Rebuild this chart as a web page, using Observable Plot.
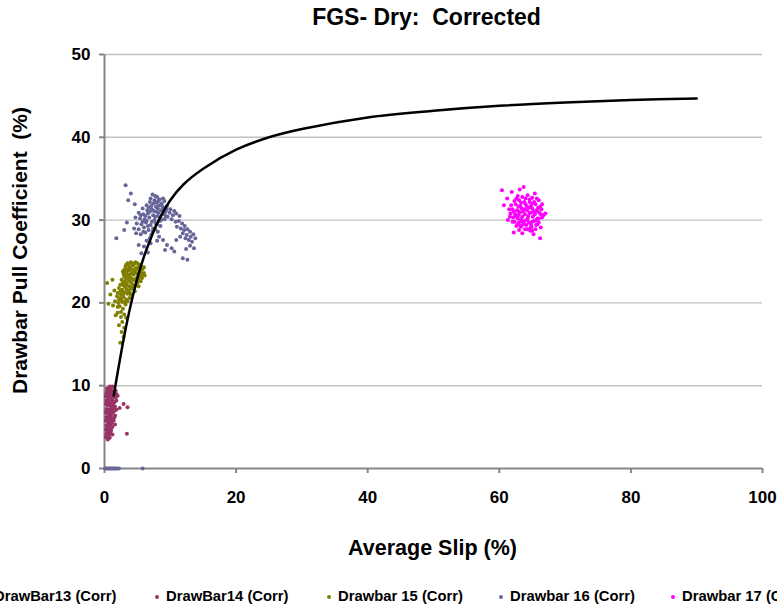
<!DOCTYPE html>
<html>
<head>
<meta charset="utf-8">
<script src="https://cdn.jsdelivr.net/npm/d3@7"></script>
<script src="https://cdn.jsdelivr.net/npm/@observablehq/plot@0.6"></script>
<style>
  html, body { margin: 0; padding: 0; background: #fff; }
  body { width: 777px; height: 607px; position: relative; overflow: hidden; font-family: "Liberation Sans", Arial, sans-serif; }
  #chart svg { display: block; white-space: pre; font-family: "Liberation Sans", Arial, sans-serif; }
  .legend { position: absolute; top: 588px; left: 0; height: 17px; font-size: 14.8px; font-weight: bold; line-height: 17px; white-space: nowrap; }
  .entry { position: absolute; top: 0; display: flex; align-items: center; }
  .entry .sw { width: 4px; height: 4px; border-radius: 50%; margin-right: 7px; margin-top: 1px; }
</style>
</head>
<body>
<div id="chart"></div>
<div class="legend" id="legend"></div>
<script>
// ---- data ----
const titleText = "FGS- Dry:  Corrected";
const xLabel = "Average Slip (%)";
const yLabel = "Drawbar Pull Coefficient  (%)";
const xTicks = [0, 20, 40, 60, 80, 100];
const yTicks = [0, 10, 20, 30, 40, 50];
const seriesNames = ["DrawBar13 (Corr)", "DrawBar14 (Corr)", "Drawbar 15 (Corr)", "Drawbar 16 (Corr)", "Drawbar 17 (Corr)"];
const seriesColors = ["#666699", "#993366", "#808000", "#666699", "#ff00ff"];

// fitted curve (slip %, drawbar pull %)
const curveSlip = [1.4, 2, 3, 4, 5, 6, 7, 8, 10, 12, 15, 20, 25, 30, 40, 50, 60, 70, 80, 90];
const curvePull = [8.8, 11.6, 16.0, 19.8, 23.0, 25.6, 27.7, 29.6, 32.4, 34.3, 36.2, 38.5, 40.0, 41.0, 42.4, 43.2, 43.8, 44.2, 44.5, 44.7];

const drawBar13 = [[0.1,0],[0.3,0],[0.5,0],[0.7,0],[0.9,0],[1.1,0],[1.3,0],[1.5,0],[1.7,0],[1.9,0],[2.2,0],[5.8,0]];

const drawBar14 = [
[0.8,9.9],[1.2,9.9],[0.4,9.4],[0.7,9.5],[1.0,9.6],[1.4,9.3],[1.7,9.4],[0.3,9.1],[0.6,9.0],[0.9,9.2],[1.2,9.0],[1.5,9.1],[1.8,9.0],
[0.2,8.7],[0.5,8.6],[0.8,8.8],[1.1,8.5],[1.4,8.7],[1.7,8.6],[2.0,8.8],[0.3,8.2],[0.6,8.3],[0.9,8.1],[1.2,8.3],[1.5,8.0],[1.8,8.2],[2.3,7.3],[2.9,7.8],[3.5,7.4],
[0.2,7.8],[0.5,7.6],[0.8,7.7],[1.0,7.4],[1.3,7.6],[1.6,7.5],[0.3,7.2],[0.6,7.1],[0.9,7.0],[1.2,7.2],[1.5,7.0],[1.8,7.1],
[0.2,6.8],[0.4,6.6],[0.7,6.7],[1.0,6.5],[1.3,6.8],[1.6,6.4],[0.3,6.2],[0.6,6.1],[0.9,6.3],[1.2,6.0],[1.5,6.2],
[0.2,5.8],[0.5,5.6],[0.8,5.7],[1.1,5.5],[1.4,5.8],[0.3,5.2],[0.6,5.1],[0.9,5.3],[1.2,5.0],[1.6,5.3],[1.2,4.1],[3.4,4.2],
[0.2,4.7],[0.5,4.5],[0.8,4.8],[0.3,4.2],[0.6,4.0],[0.9,4.3],[0.2,3.8],[0.5,3.5],[0.8,3.7],[1.0,4.6],
[0.4,9.7],[1.0,9.3],[1.3,8.9],[0.5,8.0],[0.8,7.9],[1.1,7.9],[1.4,7.3],[0.4,6.9],[0.8,6.4],[1.1,6.8],[0.4,5.9],[0.7,5.4],[1.0,5.9],[0.4,4.8],[0.7,4.2]
];

const drawBar15 = [
[3.5,24.8],[4.0,24.9],[4.5,24.7],[5.0,24.8],[5.4,24.6],[3.2,24.4],[3.8,24.3],[4.3,24.5],[4.8,24.2],[5.3,24.3],[5.8,24.1],
[2.8,23.8],[3.3,23.7],[3.7,23.9],[4.1,23.6],[4.6,23.8],[5.0,23.5],[5.5,23.7],[6.0,23.6],[3.0,23.2],[3.5,23.3],[3.9,23.1],[4.4,23.4],[4.9,23.0],[5.3,23.2],[5.7,23.0],[6.1,23.3],
[2.6,22.8],[3.1,22.6],[3.6,22.9],[4.0,22.5],[4.5,22.7],[5.0,22.4],[5.5,22.6],[2.4,22.2],[2.9,22.1],[3.4,22.3],[3.8,22.0],[4.3,22.2],[4.8,22.1],[5.2,22.0],[1.2,22.8],[0.4,22.4],
[2.2,21.8],[2.7,21.6],[3.2,21.9],[3.6,21.5],[4.1,21.7],[4.6,21.4],[2.0,21.2],[2.5,21.0],[3.0,21.3],[3.5,21.1],[4.0,21.0],[1.5,21.5],[0.9,21.0],
[1.9,20.8],[2.4,20.6],[2.9,20.7],[3.3,20.4],[3.8,20.6],[1.6,20.2],[2.1,20.0],[2.6,20.3],[3.1,20.1],[0.6,19.9],[1.3,19.7],[2.0,19.5],
[2.3,19.6],[2.8,19.3],[3.2,19.8],[2.5,18.9],[3.0,18.6],[2.0,18.8],[2.5,18.3],[3.3,18.2],[1.7,18.5],
[2.7,17.7],[2.2,17.3],[3.0,17.0],[2.6,16.5],[2.9,15.9],[2.4,15.2],
[3.3,24.6],[3.7,24.6],[4.2,24.8],[4.7,24.9],[5.2,24.5],[5.6,24.4],[3.0,24.0],[3.5,24.0],[4.0,24.1],[4.5,24.0],[5.0,24.1],[5.5,24.0],[6.0,24.3],
[2.9,23.5],[3.4,23.5],[3.8,23.4],[4.3,23.7],[4.8,23.6],[5.2,23.6],[5.7,23.4],[3.2,23.0],[3.7,22.7],[4.2,22.9],[4.7,22.9],[5.2,22.8],
[2.8,22.4],[3.3,22.1],[4.0,21.8],[4.5,22.0],[2.4,21.4],[2.9,21.1],[3.4,21.6],[3.8,21.3],[2.2,20.4],[2.7,20.1],[3.5,20.2]
];

const drawBar16 = [
[3.2,34.2],[4.0,33.2],[3.6,32.4],[4.6,31.9],[1.8,27.8],[3.4,29.7],[3.0,28.8],
[7.3,33.1],[8.0,32.8],[7.6,32.4],[8.4,32.5],[6.9,32.2],[7.9,32.1],[8.7,32.0],[9.1,32.3],[6.4,31.8],[7.1,31.7],[7.8,31.6],[8.3,31.8],[9.0,31.5],[9.5,31.7],
[5.8,31.4],[6.5,31.2],[7.2,31.3],[7.9,31.0],[8.6,31.2],[9.3,31.0],[5.2,30.9],[5.9,30.7],[6.6,30.8],[7.4,30.6],[8.1,30.5],[8.8,30.7],[9.6,30.4],
[4.7,30.3],[5.4,30.2],[6.1,30.1],[6.8,30.3],[7.6,30.0],[8.4,29.9],[9.1,30.1],[4.9,29.6],[5.6,29.5],[6.3,29.7],[7.0,29.4],[7.8,29.6],[8.5,29.3],
[4.5,29.0],[5.2,28.9],[6.0,29.1],[6.7,28.8],[7.4,29.0],[5.5,28.3],[6.2,28.5],[7.1,28.2],[8.1,28.6],[4.8,28.4],
[8.9,27.6],[9.5,27.0],[10.2,26.6],[10.6,26.2],[9.2,26.4],[6.6,26.1],[5.6,26.0],[6.0,26.8],[7.0,27.2],[8.0,27.5],[6.4,27.5],[5.2,27.0],
[9.9,30.9],[10.4,30.6],[10.9,30.8],[11.4,30.5],[10.2,30.1],[10.8,29.8],[11.3,29.9],[11.8,29.6],[12.2,29.3],[11.0,29.2],[11.6,29.0],[12.1,28.8],[12.6,28.9],[13.0,28.6],
[11.9,28.4],[12.5,28.2],[13.1,28.0],[13.5,28.3],[12.8,27.6],[13.3,27.4],[13.8,27.8],[12.3,27.8],[13.0,26.9],[13.6,26.6],[12.4,26.5],[11.9,25.4],[12.6,25.2],[10.9,27.6],[11.5,28.0],
[7.0,32.6],[7.7,32.9],[8.2,32.3],[8.9,32.6],[6.7,31.5],[7.4,32.0],[8.1,31.4],[8.8,31.6],[7.5,31.1],[8.2,30.9],[9.0,30.8],[6.2,30.5],[6.9,31.0],[7.7,30.4],[8.5,30.3],[9.3,30.5],
[5.5,30.6],[6.4,29.9],[7.2,29.8],[8.0,29.5],[5.8,29.8],[6.6,29.3],[7.3,28.6],[5.9,28.6],[8.3,28.0],[7.7,28.9],[6.9,27.8],[8.6,30.0],[9.4,31.3],[10.0,31.3],[10.6,31.1]
];

const drawBar17 = [
[60.4,33.6],[63.7,34.0],[63.1,33.7],[61.9,33.4],[65.4,33.2],[60.7,31.8],[62.2,28.5],[63.5,28.4],[65.2,28.3],[66.2,27.8],[67.0,30.8],[61.2,32.6],[66.5,31.9],[61.3,30.0],
[62.8,32.9],[63.5,32.8],[64.3,33.0],[65.0,32.7],
[62.3,32.3],[63.0,32.4],[63.8,32.2],[64.6,32.5],[65.3,32.2],[66.0,32.4],
[61.8,31.8],[62.5,31.9],[63.2,31.7],[64.0,31.9],[64.8,31.7],[65.5,31.9],[66.2,31.6],
[62.0,31.3],[62.7,31.2],[63.4,31.4],[64.2,31.2],[65.0,31.4],[65.7,31.2],[66.4,31.3],
[61.7,30.8],[62.4,30.7],[63.1,30.9],[63.9,30.7],[64.6,30.9],[65.4,30.7],[66.1,30.9],[66.7,30.6],
[62.1,30.3],[62.8,30.2],[63.5,30.4],[64.3,30.2],[65.1,30.4],[65.8,30.2],[66.5,30.3],
[62.3,29.8],[63.0,29.7],[63.8,29.9],[64.5,29.7],[65.3,29.9],[66.0,29.7],
[62.6,29.3],[63.3,29.2],[64.1,29.4],[64.9,29.2],[65.6,29.4],[66.3,29.1],
[63.0,28.8],[63.9,28.9],[64.7,28.7],[65.5,28.9],
[62.9,31.6],[63.6,31.0],[64.4,30.5],[65.2,31.1],[63.3,30.1],[64.8,29.5],[64.0,32.6],[65.7,30.0],[62.5,30.5],[63.7,29.5],[64.5,31.5],[65.9,31.5],
[62.6,32.6],[63.3,32.1],[64.2,31.6],[65.0,32.0],[65.7,32.6],[62.2,31.0],[63.0,31.0],[63.8,31.3],[64.8,30.9],[65.6,31.0],[66.3,30.7],[62.0,29.8],
[62.9,30.6],[63.5,29.8],[64.2,30.0],[65.0,29.8],[65.8,29.5],[62.8,29.5],[64.3,28.9],[65.0,28.7],[66.0,30.2],[64.6,32.2],[63.2,29.3],[64.8,29.1],[61.5,31.3],[61.6,30.4]
];

// ---- build tables ----
const seriesData = [drawBar13, drawBar14, drawBar15, drawBar16, drawBar17];
const points = seriesData.flatMap((arr, i) => arr.map(([s, p]) => ({series: seriesNames[i], slip: s, pull: p})));
const curve = curveSlip.map((s, i) => ({slip: s, pull: curvePull[i]}));

const font = "'Liberation Sans', Arial, sans-serif";
const axisGray = "#868686";

const chart = Plot.plot({
  width: 777,
  height: 580,
  marginLeft: 104,
  marginRight: 15,
  marginTop: 54,
  marginBottom: 112,
  style: {fontFamily: font, background: "white", overflow: "visible"},
  x: {domain: [0, 100], label: null},
  y: {domain: [0, 50], label: null},
  color: {domain: seriesNames, range: seriesColors},
  marks: [
    Plot.ruleY(yTicks.filter(d => d > 0), {stroke: "#c0c0c0", strokeWidth: 1.4}),
    Plot.axisX({ticks: xTicks, tickSize: 5, tickPadding: 17, fontSize: 17, fontWeight: "bold", stroke: axisGray, strokeWidth: 2, fill: "black", label: null, tickFormat: d => String(d)}),
    Plot.axisY({ticks: yTicks, tickSize: 5, tickPadding: 9, fontSize: 17, fontWeight: "bold", stroke: axisGray, strokeWidth: 2, fill: "black", label: null, tickFormat: d => String(d)}),
    Plot.ruleY([0], {stroke: axisGray, strokeWidth: 2}),
    Plot.ruleX([0], {stroke: axisGray, strokeWidth: 2}),
    Plot.dot(points, {x: "slip", y: "pull", fill: "series", r: 2, stroke: "none"}),
    Plot.line(curve, {x: "slip", y: "pull", stroke: "black", strokeWidth: 2.5, curve: "catmull-rom"}),
    Plot.text([titleText], {text: d => d, frameAnchor: "top", dx: -7, dy: -46, fontSize: 23, fontWeight: "bold", fill: "black"}),
    Plot.text([xLabel], {text: d => d, frameAnchor: "bottom", dx: -1, dy: 86, fontSize: 21.5, fontWeight: "bold", fill: "black"}),
    Plot.text([yLabel], {text: d => d, frameAnchor: "left", textAnchor: "middle", rotate: -90, dx: -84, dy: -11, fontSize: 21, fontWeight: "bold", fill: "black"})
  ]
});
document.getElementById("chart").appendChild(chart);

// ---- legend below the chart ----
const legend = document.getElementById("legend");
const entryStart = -17, entryStep = 172;
seriesNames.forEach((name, i) => {
  const e = document.createElement("div");
  e.className = "entry";
  e.style.left = (entryStart + i * entryStep) + "px";
  const sw = document.createElement("span");
  sw.className = "sw";
  sw.style.background = seriesColors[i];
  const t = document.createElement("span");
  t.textContent = name;
  e.appendChild(sw); e.appendChild(t);
  legend.appendChild(e);
});
</script>
</body>
</html>
